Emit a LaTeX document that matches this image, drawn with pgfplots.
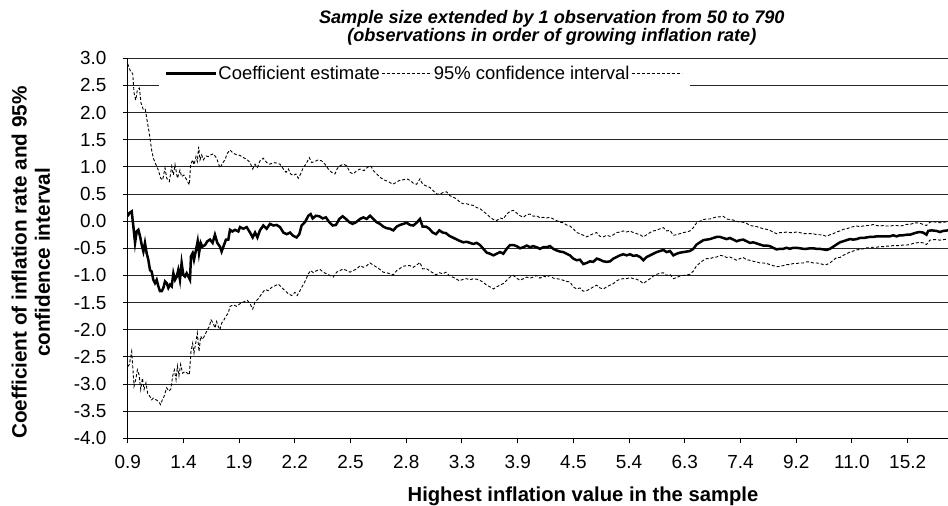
\documentclass[border=0pt]{standalone}
\usepackage{fontspec}
\setmainfont{Liberation Sans}
\usepackage{pgfplots}
\pgfplotsset{compat=1.18}
\begin{document}
\begin{tikzpicture}
\begin{axis}[
  at={(0,0)}, anchor=south west,
  scale only axis, width=820.3bp, height=380bp,
  xmin=50, xmax=786.2, ymin=-4, ymax=3,
  axis lines*=left,
  axis line style={black, line width=1bp, -},
  tick style={black, line width=1bp},
  tick align=outside, major tick length=5bp,
  xtick={50,100,150,200,250,300,350,400,450,500,550,600,650,700,750},
  xticklabels={0.9,1.4,1.9,2.2,2.5,2.8,3.3,3.9,4.5,5.4,6.3,7.4,9.2,11.0,15.2},
  ytick={-4,-3.5,-3,-2.5,-2,-1.5,-1,-0.5,0,0.5,1,1.5,2,2.5,3},
  yticklabels={-4.0,-3.5,-3.0,-2.5,-2.0,-1.5,-1.0,-0.5,0.0,0.5,1.0,1.5,2.0,2.5,3.0},
  ticklabel style={font=\fontsize{19}{21}\selectfont},
  xticklabel style={anchor=north, inner sep=0pt, yshift=-12bp},
  yticklabel style={anchor=east, inner sep=0pt, xshift=-16bp},
  ymajorgrids, major grid style={black!85, line width=1bp},
  title={Sample size extended by 1 observation from 50 to 790\\(observations in order of growing inflation rate)},
  title style={at={(rel axis cs:0.517,1)}, anchor=south, yshift=7bp, inner sep=0pt, align=center, font=\fontsize{18.2}{18}\selectfont\bfseries\itshape},
  xlabel={Highest inflation value in the sample},
  xlabel style={at={(rel axis cs:0.555,0)}, anchor=base, yshift=-62.7bp, inner sep=0pt, font=\fontsize{20.3}{22}\selectfont\bfseries},
  ylabel={Coefficient of inflation rate and 95\%\\confidence interval},
  ylabel style={at={(rel axis cs:-0.118,0.4626)}, anchor=center, inner sep=0pt, align=center, font=\fontsize{20.8}{23.3}\selectfont\bfseries},
  legend style={at={(rel axis cs:0.0385,0.96)}, anchor=west, draw=none, fill=white, legend columns=-1, font=\fontsize{18.5}{20}\selectfont, inner xsep=5bp, inner ysep=5bp, nodes={inner sep=1.5bp}, /tikz/every even column/.append style={column sep=0pt}},
  legend image code/.code={\draw[#1] (0bp,0bp) -- (50bp,0bp);},
]
\addplot[black, line width=2.5bp] coordinates {
(50,0.09) (51.5,0.15) (53.6,0.18) (55.1,-0.10) (56.6,-0.40) (58.1,-0.19) (59.6,-0.16) (61.1,-0.28) (62.6,-0.44) (64.1,-0.56) (65.5,-0.40) (67.0,-0.59) (68.5,-0.71) (70.0,-0.90) (71.5,-0.93) (73.0,-1.08) (74.5,-1.14) (76.0,-1.08) (77.5,-1.20) (79.0,-1.29) (80.5,-1.29) (82.0,-1.23) (83.5,-1.11) (85.0,-1.14) (86.5,-1.23) (88.0,-1.17) (89.5,-1.20) (91.0,-0.96) (92.5,-1.08) (94.0,-1.02) (95.4,-0.90) (96.9,-1.08) (98.4,-0.77) (99.9,-0.99) (101.4,-1.02) (102.9,-0.96) (104.4,-1.02) (105.9,-1.08) (106.8,-0.65) (108.3,-0.59) (109.5,-0.71) (111.0,-0.56) (112.8,-0.37) (114.0,-0.59) (115.5,-0.40) (117.0,-0.47) (119.4,-0.44) (121.5,-0.37) (123.9,-0.34) (126.2,-0.40) (128.3,-0.25) (130.4,-0.40) (132.8,-0.47) (134.3,-0.56) (136.4,-0.44) (138.2,-0.34) (140.3,-0.34) (141.8,-0.16) (143.9,-0.19) (146.3,-0.16) (149.3,-0.19)
(150.8,-0.11) (153.8,-0.14) (156.8,-0.11) (159.8,-0.21) (162.2,-0.30) (164.3,-0.21) (166.4,-0.30) (168.7,-0.17) (171.7,-0.08) (174.7,-0.14) (177.7,-0.05) (180.7,-0.08) (183.7,-0.07) (186.7,-0.11) (189.7,-0.21) (192.7,-0.24) (195.7,-0.21) (198.6,-0.27) (201.6,-0.30) (204.0,-0.24) (206.1,-0.08) (209.1,-0.02) (212.1,0.10) (214.2,0.13) (216.0,0.05) (219.0,0.10) (222.0,0.09) (225.0,0.05) (227.9,0.07) (230.9,-0.02) (233.9,-0.08) (236.9,-0.07) (239.9,0.04) (242.9,0.09) (245.9,0.04) (248.9,-0.02) (251.9,-0.05) (254.9,-0.02)
(258.5,0.04) (261.5,0.07) (264.5,0.04) (267.5,0.10) (270.5,0.04) (273.5,-0.02) (276.4,-0.05) (279.4,-0.10) (282.4,-0.13) (285.4,-0.14) (288.4,-0.17) (291.4,-0.10) (294.4,-0.07) (297.4,-0.05) (300.4,-0.03) (303.4,-0.07) (306.3,-0.08) (309.3,-0.03) (312.3,0.04) (314.7,-0.10) (317.7,-0.10) (320.7,-0.14) (323.7,-0.21) (326.7,-0.24) (329.7,-0.17) (332.7,-0.21) (335.6,-0.22) (338.6,-0.27) (341.6,-0.30) (344.6,-0.33) (347.6,-0.36) (351.2,-0.39) (354.2,-0.38) (357.2,-0.40) (360.2,-0.42) (363.2,-0.40)
(366.2,-0.44) (369.2,-0.51) (372.2,-0.58) (375.2,-0.60) (378.2,-0.63) (381.2,-0.60) (384.1,-0.57) (387.1,-0.60) (390.1,-0.51) (393.1,-0.44) (396.1,-0.44) (399.1,-0.46) (402.1,-0.50) (405.1,-0.48) (408.1,-0.45) (411.1,-0.48) (414.0,-0.46) (417.0,-0.48) (420.0,-0.51) (423.0,-0.48) (426.0,-0.48) (429.0,-0.46) (432.0,-0.51) (435.0,-0.54) (438.0,-0.56) (441.0,-0.57) (443.9,-0.60) (446.9,-0.63) (449.9,-0.69) (452.9,-0.72) (455.9,-0.71) (458.9,-0.79) (461.9,-0.77) (464.9,-0.74) (467.9,-0.75) (470.9,-0.69)
(473.9,-0.71) (476.9,-0.74) (479.9,-0.75) (482.9,-0.74) (485.9,-0.69) (488.9,-0.66) (491.8,-0.63) (494.8,-0.61) (497.8,-0.63) (500.8,-0.61) (503.8,-0.64) (506.8,-0.63) (509.8,-0.66) (512.8,-0.72) (515.8,-0.66) (518.8,-0.63) (521.7,-0.60) (524.7,-0.57) (527.7,-0.55) (530.7,-0.53) (533.7,-0.57) (536.7,-0.55) (539.7,-0.63) (542.7,-0.60) (545.7,-0.58) (548.7,-0.57) (551.6,-0.56) (554.6,-0.55) (557.6,-0.51) (560.6,-0.43) (563.6,-0.39) (566.6,-0.35) (569.6,-0.34) (572.6,-0.33) (575.6,-0.31) (578.6,-0.29)
(581.5,-0.29) (584.5,-0.31) (587.5,-0.33) (590.5,-0.31) (593.5,-0.34) (596.5,-0.37) (599.4,-0.35) (602.4,-0.34) (605.4,-0.37) (608.4,-0.40) (611.4,-0.39) (614.4,-0.41) (617.4,-0.43) (620.4,-0.45) (623.4,-0.45) (626.4,-0.46) (629.3,-0.49) (632.3,-0.52) (635.3,-0.51) (638.3,-0.51) (641.3,-0.49) (644.3,-0.51) (647.3,-0.49) (650.3,-0.49) (653.3,-0.50) (656.3,-0.51) (659.2,-0.51) (662.2,-0.50) (665.2,-0.50) (668.2,-0.51) (671.2,-0.51) (674.2,-0.52) (677.2,-0.53) (680.2,-0.51) (683.2,-0.47) (686.2,-0.43)
(689.2,-0.39) (692.2,-0.37) (695.2,-0.35) (698.2,-0.33) (701.2,-0.34) (704.2,-0.33) (707.1,-0.31) (710.1,-0.31) (713.1,-0.30) (716.1,-0.29) (719.1,-0.29) (722.1,-0.28) (725.1,-0.28) (728.1,-0.28) (731.1,-0.28) (734.1,-0.28) (737.0,-0.26) (740.0,-0.28) (743.0,-0.26) (746.0,-0.26) (749.0,-0.25) (752.0,-0.25) (755.0,-0.23) (758.0,-0.21) (761.0,-0.20) (763.9,-0.21) (766.9,-0.25) (768.4,-0.18) (771.4,-0.17) (775.9,-0.18) (778.9,-0.20) (781.9,-0.18) (786.1,-0.17)
};
\addlegendentry{Coefficient estimate}
\addplot[black, line width=0.9bp, dash pattern=on 3bp off 2bp] coordinates {
(50,2.90) (52.7,2.75) (54.5,2.72) (55.7,2.36) (57.2,2.23) (58.7,2.42) (60.5,2.45) (62.0,2.17) (64.1,2.05) (65.8,2.06) (67.6,1.83) (69.4,1.62) (71.5,1.31) (73.0,1.16) (75.4,1.04) (77.5,0.94) (79.6,0.79) (81.4,0.76) (83.5,0.98) (85.0,0.79) (87.4,0.73) (89.5,1.01) (91.0,0.85) (92.5,1.04) (94.6,0.79) (96.9,0.94) (98.4,0.82) (100.5,0.85) (102.9,0.76) (105.3,0.67) (106.5,1.04) (108.3,1.13) (109.5,1.04) (111.3,1.19) (112.5,1.10) (113.7,1.37) (114.9,1.13) (116.4,1.22) (117.9,1.13) (120.3,1.20) (122.4,1.19) (124.5,1.22) (126.8,1.24) (129.8,1.16) (132.8,0.98) (135.2,1.07) (137.3,1.13) (139.4,1.25) (141.8,1.31) (144.8,1.25) (147.8,1.22)
(150.8,1.21) (153.8,1.17) (156.8,1.14) (159.8,1.08) (162.2,0.96) (164.3,1.05) (166.4,0.99) (168.7,1.11) (171.7,1.16) (174.7,1.08) (177.7,1.05) (180.7,1.08) (183.7,1.07) (186.7,1.05) (189.7,0.96) (192.1,0.90) (194.2,0.96) (196.2,0.87) (198.6,0.84) (201.0,0.87) (203.1,0.79) (205.2,0.87) (207.6,0.99) (210.0,1.05) (213.0,1.17) (215.1,1.08) (218.1,1.10) (221.1,1.13) (224.1,1.11) (227.0,1.05) (230.0,0.96) (233.0,0.90) (236.0,0.87) (238.1,0.97) (240.5,1.02) (243.5,1.05) (246.5,1.02) (249.5,0.90) (252.5,0.87) (255.5,0.93)
(258.5,0.96) (262.1,0.93) (265.1,0.99) (268.1,1.02) (270.5,0.93) (273.5,0.87) (276.4,0.81) (280.0,0.76) (283.9,0.73) (287.8,0.68) (290.8,0.71) (293.8,0.75) (296.8,0.76) (300.4,0.78) (303.4,0.75) (306.3,0.70) (309.3,0.68) (312.3,0.78) (314.7,0.68) (317.7,0.65) (321.3,0.62) (324.3,0.56) (327.3,0.50) (330.3,0.50) (333.3,0.53) (336.2,0.54) (339.2,0.47) (342.2,0.44) (345.2,0.41) (348.2,0.35) (351.2,0.32) (354.2,0.32) (357.2,0.30) (360.2,0.29) (363.2,0.25)
(366.2,0.23) (369.2,0.18) (372.2,0.13) (375.2,0.07) (378.2,0.03) (381.2,0.01) (384.1,0.06) (387.1,0.04) (390.1,0.13) (393.1,0.18) (396.1,0.20) (399.1,0.15) (402.1,0.10) (405.1,0.07) (408.1,0.12) (411.1,0.13) (414.0,0.09) (417.0,0.10) (420.0,0.06) (423.0,0.07) (426.0,0.06) (429.0,0.07) (432.0,0.04) (435.0,0.01) (438.0,-0.02) (441.0,-0.03) (443.9,-0.07) (446.9,-0.09) (449.9,-0.14) (452.9,-0.21) (455.9,-0.23) (458.9,-0.26) (461.9,-0.29) (464.9,-0.26) (467.9,-0.23) (470.9,-0.21)
(473.9,-0.28) (476.9,-0.29) (479.9,-0.26) (482.9,-0.28) (485.9,-0.25) (488.9,-0.21) (491.8,-0.20) (494.8,-0.18) (497.8,-0.20) (500.8,-0.18) (503.8,-0.21) (506.8,-0.23) (509.8,-0.25) (512.8,-0.29) (515.8,-0.25) (518.8,-0.21) (521.7,-0.18) (524.7,-0.17) (527.7,-0.14) (530.7,-0.12) (533.7,-0.18) (536.7,-0.17) (539.7,-0.26) (542.7,-0.25) (545.7,-0.23) (548.7,-0.21) (551.6,-0.20) (554.6,-0.18) (557.6,-0.12) (560.6,-0.03) (563.6,0.00) (566.6,0.03) (569.6,0.04) (572.6,0.04) (575.6,0.06) (578.6,0.08)
(581.5,0.08) (584.5,0.09) (587.5,0.04) (590.5,0.03) (593.5,0.02) (596.5,0.00) (599.4,-0.02) (602.4,-0.02) (605.4,-0.04) (608.4,-0.08) (611.4,-0.09) (614.4,-0.10) (617.4,-0.12) (620.4,-0.14) (623.4,-0.15) (626.4,-0.17) (629.3,-0.20) (632.3,-0.23) (635.3,-0.21) (638.3,-0.21) (641.3,-0.20) (644.3,-0.21) (647.3,-0.21) (650.3,-0.20) (653.3,-0.21) (656.3,-0.23) (659.2,-0.23) (662.2,-0.23) (665.2,-0.23) (668.2,-0.25) (671.2,-0.25) (674.2,-0.26) (677.2,-0.28) (680.2,-0.25) (683.2,-0.23) (686.2,-0.20)
(689.2,-0.18) (692.2,-0.15) (695.2,-0.14) (698.2,-0.12) (701.2,-0.10) (704.2,-0.09) (707.1,-0.10) (710.1,-0.09) (713.1,-0.08) (716.1,-0.08) (719.1,-0.06) (722.1,-0.08) (725.1,-0.09) (728.1,-0.08) (731.1,-0.09) (734.1,-0.09) (737.0,-0.08) (740.0,-0.08) (743.0,-0.09) (746.0,-0.08) (749.0,-0.06) (752.0,-0.06) (755.0,-0.04) (758.0,-0.03) (761.0,-0.04) (763.9,-0.06) (766.9,-0.08) (769.9,-0.02) (772.9,-0.01) (775.9,-0.02) (778.9,-0.03) (781.9,-0.02) (786.1,-0.01)
};
\addlegendentry{95\% confidence interval}
\addplot[black, line width=0.9bp, dash pattern=on 3bp off 2bp] coordinates {
(50,-2.68) (51.5,-2.64) (53.6,-2.40) (54.5,-2.67) (55.7,-3.04) (57.2,-2.92) (58.7,-2.74) (60.2,-2.83) (61.7,-3.10) (63.2,-2.89) (64.7,-3.10) (66.4,-2.98) (67.9,-3.17) (70.0,-3.23) (71.5,-3.29) (73.0,-3.26) (75.4,-3.29) (77.5,-3.32) (79.6,-3.38) (81.1,-3.29) (82.6,-3.23) (85.0,-3.07) (86.8,-3.13) (88.6,-3.10) (90.4,-2.85) (91.9,-2.74) (93.4,-2.92) (94.6,-2.67) (96.0,-2.85) (97.5,-2.64) (99.3,-2.80) (101.4,-2.77) (103.5,-2.80) (105.3,-2.83) (106.8,-2.40) (108.3,-2.25) (109.5,-2.43) (111.0,-2.25) (112.5,-2.06) (114.0,-2.40) (115.5,-2.12) (117.3,-2.18) (119.4,-2.09) (121.5,-2.00) (123.3,-1.94) (124.8,-1.82) (126.8,-1.88) (128.3,-1.97) (129.8,-1.85) (131.3,-1.94) (132.8,-2.00) (134.3,-1.88) (136.4,-1.82) (138.2,-1.75) (140.3,-1.69) (141.8,-1.57) (144.8,-1.54) (147.8,-1.57)
(150.8,-1.52) (153.8,-1.49) (157.4,-1.46) (159.8,-1.52) (162.2,-1.62) (164.3,-1.49) (167.2,-1.43) (170.2,-1.34) (173.2,-1.26) (176.2,-1.28) (179.2,-1.22) (182.2,-1.19) (185.2,-1.16) (188.2,-1.22) (191.2,-1.28) (194.2,-1.34) (197.1,-1.37) (200.1,-1.31) (202.2,-1.37) (204.6,-1.28) (207.0,-1.19) (209.4,-1.10) (212.1,-0.97) (214.2,-0.91) (216.6,-0.95) (219.6,-0.91) (222.6,-0.89) (225.6,-0.94) (228.5,-0.97) (231.5,-1.00) (234.5,-1.03) (237.5,-0.94) (240.5,-0.91) (243.5,-0.88) (246.5,-0.91) (249.5,-0.94) (252.5,-0.91) (255.5,-0.88)
(258.5,-0.82) (261.5,-0.85) (264.5,-0.82) (267.5,-0.77) (270.5,-0.81) (273.5,-0.85) (276.4,-0.89) (279.4,-0.94) (282.4,-0.95) (285.4,-0.97) (288.4,-0.99) (291.4,-0.91) (294.4,-0.87) (297.4,-0.83) (300.4,-0.82) (303.4,-0.82) (306.3,-0.85) (309.3,-0.81) (312.3,-0.76) (314.7,-0.88) (317.7,-0.87) (320.7,-0.91) (323.7,-0.95) (326.7,-0.99) (329.7,-0.95) (332.7,-0.97) (335.6,-0.94) (338.6,-1.00) (341.6,-1.03) (344.6,-1.06) (347.6,-1.10) (351.2,-1.07) (354.2,-1.06) (357.2,-1.08) (360.2,-1.06) (363.2,-1.07)
(366.2,-1.09) (369.2,-1.13) (372.2,-1.18) (375.2,-1.21) (378.2,-1.25) (381.2,-1.21) (384.1,-1.18) (387.1,-1.15) (390.1,-1.09) (393.1,-1.03) (396.1,-1.00) (399.1,-1.05) (402.1,-1.09) (405.1,-1.06) (408.1,-1.03) (411.1,-1.05) (414.0,-1.03) (417.0,-1.00) (420.0,-1.05) (423.0,-1.01) (426.0,-1.03) (429.0,-1.00) (432.0,-1.05) (435.0,-1.06) (438.0,-1.07) (441.0,-1.09) (443.9,-1.11) (446.9,-1.12) (449.9,-1.21) (452.9,-1.25) (455.9,-1.23) (458.9,-1.29) (461.9,-1.28) (464.9,-1.25) (467.9,-1.21) (470.9,-1.18)
(473.9,-1.23) (476.9,-1.25) (479.9,-1.21) (482.9,-1.18) (485.9,-1.15) (488.9,-1.10) (491.8,-1.07) (494.8,-1.06) (497.8,-1.06) (500.8,-1.04) (503.8,-1.06) (506.8,-1.07) (509.8,-1.10) (512.8,-1.15) (515.8,-1.10) (518.8,-1.06) (521.7,-1.01) (524.7,-0.98) (527.7,-0.96) (530.7,-0.95) (533.7,-1.00) (536.7,-0.98) (539.7,-1.06) (542.7,-1.04) (545.7,-1.01) (548.7,-1.00) (551.6,-0.99) (554.6,-0.98) (557.6,-0.92) (560.6,-0.82) (563.6,-0.77) (566.6,-0.72) (569.6,-0.69) (572.6,-0.69) (575.6,-0.67) (578.6,-0.66)
(581.5,-0.63) (584.5,-0.64) (587.5,-0.67) (590.5,-0.66) (593.5,-0.69) (596.5,-0.72) (599.4,-0.69) (602.4,-0.67) (605.4,-0.71) (608.4,-0.72) (611.4,-0.74) (614.4,-0.75) (617.4,-0.77) (620.4,-0.77) (623.4,-0.78) (626.4,-0.80) (629.3,-0.82) (632.3,-0.84) (635.3,-0.83) (638.3,-0.82) (641.3,-0.80) (644.3,-0.80) (647.3,-0.78) (650.3,-0.78) (653.3,-0.77) (656.3,-0.77) (659.2,-0.75) (662.2,-0.75) (665.2,-0.77) (668.2,-0.77) (671.2,-0.78) (674.2,-0.80) (677.2,-0.80) (680.2,-0.77) (683.2,-0.72) (686.2,-0.67)
(689.2,-0.67) (692.2,-0.63) (695.2,-0.60) (698.2,-0.57) (701.2,-0.55) (704.2,-0.53) (707.1,-0.52) (710.1,-0.51) (713.1,-0.49) (716.1,-0.49) (719.1,-0.48) (722.1,-0.48) (725.1,-0.47) (728.1,-0.47) (731.1,-0.46) (734.1,-0.46) (737.0,-0.45) (740.0,-0.45) (743.0,-0.45) (746.0,-0.44) (749.0,-0.44) (752.0,-0.43) (755.0,-0.41) (758.0,-0.40) (761.0,-0.39) (763.9,-0.40) (766.9,-0.43) (769.9,-0.35) (772.9,-0.34) (775.9,-0.34) (778.9,-0.35) (781.9,-0.34) (786.1,-0.33)
};
\addlegendentry{\mbox{}}
\end{axis}
\pgfresetboundingbox
\path (-127.7bp,-67.7bp) rectangle (820.3bp,438.3bp);
\end{tikzpicture}
\end{document}
